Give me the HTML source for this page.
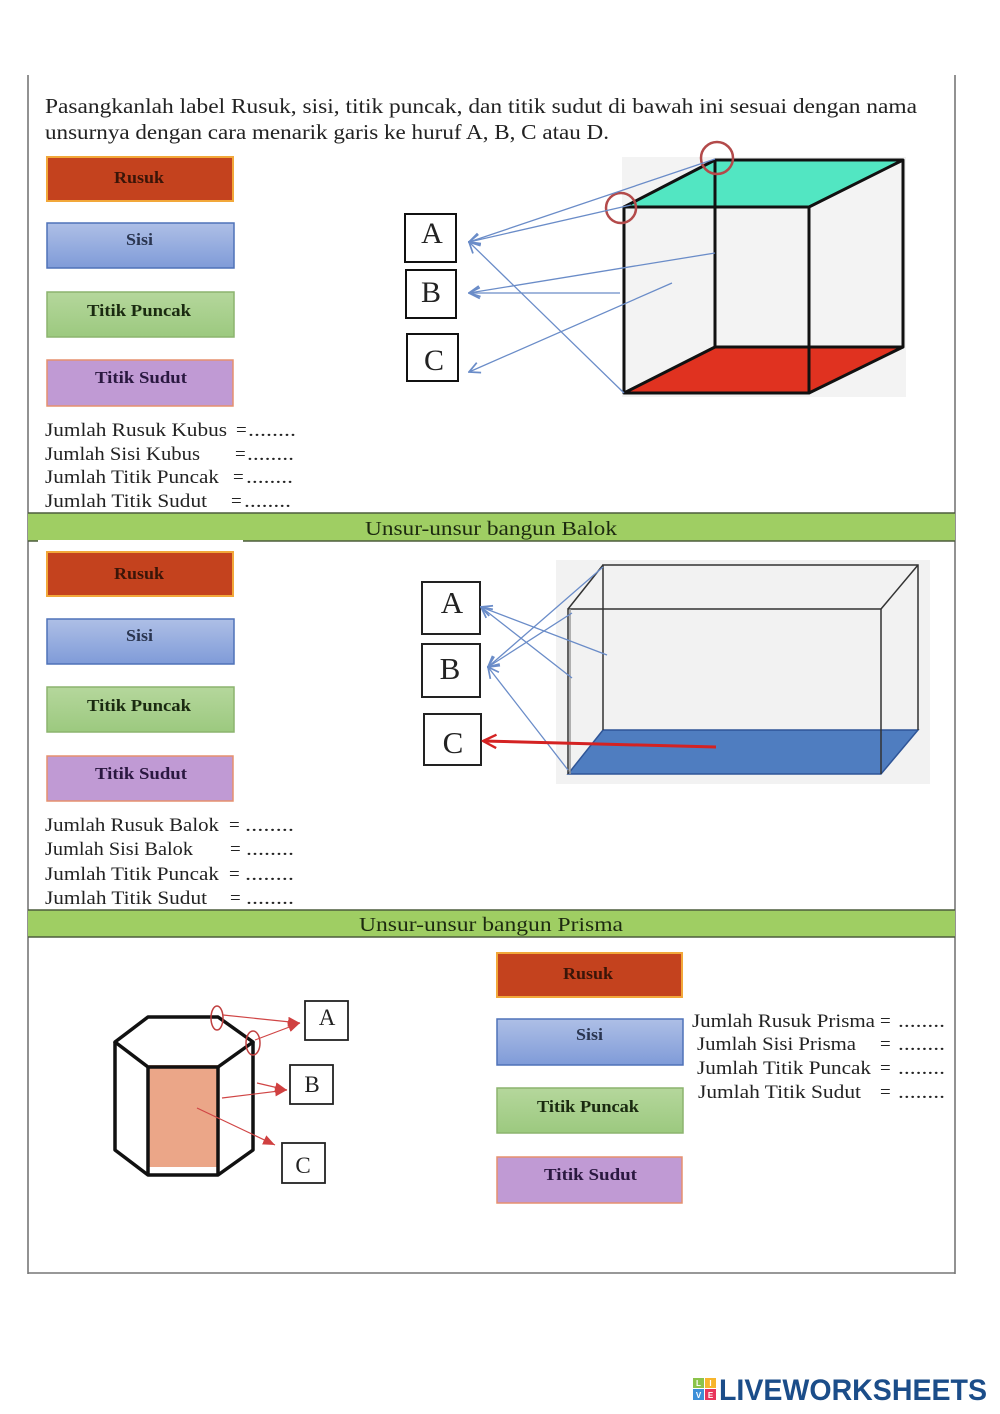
<!DOCTYPE html>
<html><head><meta charset="utf-8"><style>
html,body{margin:0;padding:0;background:#fff;}
svg{display:block;}
text{font-family:"Liberation Serif",serif;}
</style></head><body>
<svg width="1000" height="1414" viewBox="0 0 1000 1414" xmlns="http://www.w3.org/2000/svg">
<defs>
<marker id="ab" viewBox="0 0 12 12" refX="11" refY="6" markerWidth="13" markerHeight="13" markerUnits="userSpaceOnUse" orient="auto"><path d="M1,1 L11,6 L1,11" fill="none" stroke="#6a8cc8" stroke-width="1.6"/></marker>
<marker id="ar" viewBox="0 0 12 12" refX="11" refY="6" markerWidth="16" markerHeight="16" markerUnits="userSpaceOnUse" orient="auto"><path d="M1,1 L11,6 L1,11" fill="none" stroke="#d42222" stroke-width="1.8"/></marker>
<marker id="af" viewBox="0 0 12 10" refX="12" refY="5" markerWidth="12" markerHeight="10" markerUnits="userSpaceOnUse" orient="auto"><path d="M0,0 L12,5 L0,10 z" fill="#d04040"/></marker>
<linearGradient id="gs" x1="0" y1="0" x2="0" y2="1"><stop offset="0" stop-color="#aebfe6"/><stop offset="1" stop-color="#7f9bd8"/></linearGradient>
<linearGradient id="gg" x1="0" y1="0" x2="0" y2="1"><stop offset="0" stop-color="#b5d79c"/><stop offset="1" stop-color="#9cc97f"/></linearGradient>
</defs>

<!-- page border -->
<g stroke="#777" stroke-width="1.6" fill="none">
<line x1="28" y1="75" x2="28" y2="1274"/>
<line x1="955" y1="75" x2="955" y2="1274"/>
<line x1="28" y1="1273" x2="955" y2="1273"/>
</g>

<!-- instruction -->
<text x="45" y="113" font-size="21" fill="#222" textLength="872" lengthAdjust="spacingAndGlyphs">Pasangkanlah label Rusuk, sisi, titik puncak, dan titik sudut di bawah ini sesuai dengan nama</text>
<text x="45" y="139" font-size="21" fill="#222" textLength="564" lengthAdjust="spacingAndGlyphs">unsurnya dengan cara menarik garis ke huruf A, B, C atau D.</text>

<!-- ===== Section 1 labels ===== -->
<rect x="47" y="157" width="186" height="44" fill="#c4421e" stroke="#f2a83a" stroke-width="2"/>
<text x="114" y="183" font-size="17" font-weight="bold" fill="#3a1508" textLength="50" lengthAdjust="spacingAndGlyphs">Rusuk</text>
<rect x="47" y="223" width="187" height="45" fill="url(#gs)" stroke="#4f72b8" stroke-width="1.5"/>
<text x="126" y="245" font-size="17" font-weight="bold" fill="#2a3550" textLength="27" lengthAdjust="spacingAndGlyphs">Sisi</text>
<rect x="47" y="292" width="187" height="45" fill="url(#gg)" stroke="#8cb46e" stroke-width="1.5"/>
<text x="87" y="316" font-size="17" font-weight="bold" fill="#1a2a10" textLength="104" lengthAdjust="spacingAndGlyphs">Titik Puncak</text>
<rect x="47" y="360" width="186" height="46" fill="#c09ad4" stroke="#e6906e" stroke-width="1.5"/>
<text x="95" y="383" font-size="17" font-weight="bold" fill="#2a1840" textLength="92" lengthAdjust="spacingAndGlyphs">Titik Sudut</text>

<!-- jumlah kubus -->
<g font-size="19" fill="#222">
<text x="45" y="436" textLength="182" lengthAdjust="spacingAndGlyphs">Jumlah Rusuk Kubus</text><text x="236" y="436">=</text><text x="248" y="436" textLength="48" lengthAdjust="spacingAndGlyphs">........</text>
<text x="45" y="460" textLength="155" lengthAdjust="spacingAndGlyphs">Jumlah Sisi Kubus</text><text x="235" y="460">=</text><text x="247" y="460" textLength="47" lengthAdjust="spacingAndGlyphs">........</text>
<text x="45" y="483" textLength="174" lengthAdjust="spacingAndGlyphs">Jumlah Titik Puncak</text><text x="233" y="483">=</text><text x="246" y="483" textLength="47" lengthAdjust="spacingAndGlyphs">........</text>
<text x="45" y="507" textLength="162" lengthAdjust="spacingAndGlyphs">Jumlah Titik Sudut</text><text x="231" y="507">=</text><text x="244" y="507" textLength="47" lengthAdjust="spacingAndGlyphs">........</text>
</g>

<!-- cube -->
<rect x="622" y="157" width="284" height="240" fill="#f3f3f3"/>
<polygon points="624,207 715,160 903,160 809,207" fill="#52e6c2"/>
<polygon points="624,393 715,347 903,347 809,393" fill="#e03220"/>
<g stroke="#111" stroke-width="3" fill="none" stroke-linejoin="round">
<polygon points="624,207 809,207 809,393 624,393"/>
<polygon points="715,160 903,160 903,347 715,347"/>
<line x1="624" y1="207" x2="715" y2="160"/>
<line x1="809" y1="207" x2="903" y2="160"/>
<line x1="809" y1="393" x2="903" y2="347"/>
<line x1="624" y1="393" x2="715" y2="347"/>
</g>
<circle cx="717" cy="158" r="16" fill="none" stroke="#b34a4a" stroke-width="2.5"/>
<circle cx="621" cy="208" r="15" fill="none" stroke="#b34a4a" stroke-width="2.5"/>
<!-- cube boxes -->
<g fill="#fff" stroke="#111" stroke-width="2">
<rect x="405" y="214" width="51" height="48"/>
<rect x="406" y="270" width="50" height="48"/>
<rect x="407" y="334" width="51" height="47"/>
</g>
<g font-size="30" fill="#222" text-anchor="middle">
<text x="432" y="243">A</text>
<text x="431" y="302">B</text>
<text x="434" y="370">C</text>
</g>
<!-- cube arrows -->
<g stroke="#6a8cc8" stroke-width="1.3" fill="none" marker-end="url(#ab)">
<line x1="715" y1="159" x2="469" y2="242"/>
<line x1="631" y1="205" x2="469" y2="242"/>
<line x1="624" y1="393" x2="469" y2="242"/>
<line x1="715" y1="253" x2="469" y2="293"/>
<line x1="620" y1="293" x2="469" y2="293"/>
<line x1="672" y1="283" x2="469" y2="372"/>
</g>

<!-- band 1 -->
<rect x="28" y="513" width="927" height="28" fill="#9fce63"/>
<line x1="28" y1="513" x2="955" y2="513" stroke="#4d5d3d" stroke-width="1.6"/>
<line x1="28" y1="541" x2="955" y2="541" stroke="#4d5d3d" stroke-width="1.6"/>
<rect x="38" y="540" width="205" height="4" fill="#fff"/>
<text x="365" y="535" font-size="20" fill="#1d2a10" textLength="252" lengthAdjust="spacingAndGlyphs">Unsur-unsur bangun Balok</text>

<!-- ===== Section 2 labels ===== -->
<rect x="47" y="552" width="186" height="44" fill="#c4421e" stroke="#f2a83a" stroke-width="2"/>
<text x="114" y="579" font-size="17" font-weight="bold" fill="#3a1508" textLength="50" lengthAdjust="spacingAndGlyphs">Rusuk</text>
<rect x="47" y="619" width="187" height="45" fill="url(#gs)" stroke="#4f72b8" stroke-width="1.5"/>
<text x="126" y="641" font-size="17" font-weight="bold" fill="#2a3550" textLength="27" lengthAdjust="spacingAndGlyphs">Sisi</text>
<rect x="47" y="687" width="187" height="45" fill="url(#gg)" stroke="#8cb46e" stroke-width="1.5"/>
<text x="87" y="711" font-size="17" font-weight="bold" fill="#1a2a10" textLength="104" lengthAdjust="spacingAndGlyphs">Titik Puncak</text>
<rect x="47" y="756" width="186" height="45" fill="#c09ad4" stroke="#e6906e" stroke-width="1.5"/>
<text x="95" y="779" font-size="17" font-weight="bold" fill="#2a1840" textLength="92" lengthAdjust="spacingAndGlyphs">Titik Sudut</text>

<!-- jumlah balok -->
<g font-size="19" fill="#222">
<text x="45" y="831" textLength="174" lengthAdjust="spacingAndGlyphs">Jumlah Rusuk Balok</text><text x="229" y="831">=</text><text x="245" y="831" textLength="49" lengthAdjust="spacingAndGlyphs">........</text>
<text x="45" y="855" textLength="148" lengthAdjust="spacingAndGlyphs">Jumlah Sisi Balok</text><text x="230" y="855">=</text><text x="246" y="855" textLength="48" lengthAdjust="spacingAndGlyphs">........</text>
<text x="45" y="880" textLength="174" lengthAdjust="spacingAndGlyphs">Jumlah Titik Puncak</text><text x="229" y="880">=</text><text x="245" y="880" textLength="49" lengthAdjust="spacingAndGlyphs">........</text>
<text x="45" y="904" textLength="162" lengthAdjust="spacingAndGlyphs">Jumlah Titik Sudut</text><text x="230" y="904">=</text><text x="246" y="904" textLength="48" lengthAdjust="spacingAndGlyphs">........</text>
</g>

<!-- balok -->
<rect x="556" y="560" width="374" height="224" fill="#f2f2f2"/>
<polygon points="568,774 881,774 918,730 603,730" fill="#4f7dc0" stroke="#2f5597" stroke-width="1.5"/>
<g stroke="#333" stroke-width="1.5" fill="none">
<polyline points="568,774 568,609 881,609 881,774"/>
<polyline points="603,730 603,565 918,565 918,730"/>
<line x1="568" y1="609" x2="603" y2="565"/>
<line x1="881" y1="609" x2="918" y2="565"/>
<line x1="570" y1="609" x2="570" y2="774" stroke="#999"/>
</g>
<!-- balok boxes -->
<g fill="#fff" stroke="#222" stroke-width="2">
<rect x="422" y="582" width="58" height="52"/>
<rect x="422" y="644" width="58" height="53"/>
<rect x="424" y="714" width="57" height="51"/>
</g>
<g font-size="31" fill="#222" text-anchor="middle">
<text x="452" y="613">A</text>
<text x="450" y="679">B</text>
<text x="453" y="753">C</text>
</g>
<g stroke="#6a8cc8" stroke-width="1.3" fill="none" marker-end="url(#ab)">
<line x1="607" y1="655" x2="481" y2="607"/>
<line x1="572" y1="678" x2="481" y2="607"/>
<line x1="603" y1="567" x2="488" y2="667"/>
<line x1="572" y1="613" x2="488" y2="667"/>
<line x1="568" y1="770" x2="488" y2="667"/>
</g>
<line x1="716" y1="747" x2="483" y2="741" stroke="#d42222" stroke-width="3" marker-end="url(#ar)"/>

<!-- band 2 -->
<rect x="28" y="910" width="927" height="27" fill="#9fce63"/>
<line x1="28" y1="910" x2="955" y2="910" stroke="#4d5d3d" stroke-width="1.6"/>
<line x1="28" y1="937" x2="955" y2="937" stroke="#4d5d3d" stroke-width="1.6"/>
<text x="359" y="931" font-size="20" fill="#1d2a10" textLength="264" lengthAdjust="spacingAndGlyphs">Unsur-unsur bangun Prisma</text>

<!-- ===== Section 3 ===== -->
<!-- prism -->
<rect x="149" y="1065" width="69" height="102" fill="#eba688"/>
<g stroke="#111" stroke-width="3.5" fill="none" stroke-linejoin="round">
<polygon points="115,1042 148,1017 218,1017 253,1042 218,1067 148,1067"/>
<polyline points="115,1042 115,1150 148,1175 218,1175 253,1150 253,1042"/>
<line x1="148" y1="1067" x2="148" y2="1175"/>
<line x1="218" y1="1067" x2="218" y2="1175"/>
</g>
<ellipse cx="217" cy="1018" rx="6" ry="12" fill="none" stroke="#c04040" stroke-width="1.5"/>
<ellipse cx="253" cy="1043" rx="7" ry="12" fill="none" stroke="#c04040" stroke-width="1.5"/>
<g fill="#fff" stroke="#222" stroke-width="1.8">
<rect x="305" y="1001" width="43" height="39"/>
<rect x="290" y="1065" width="43" height="39"/>
<rect x="282" y="1143" width="43" height="40"/>
</g>
<g font-size="23" fill="#222" text-anchor="middle">
<text x="327" y="1025">A</text>
<text x="312" y="1092">B</text>
<text x="303" y="1173">C</text>
</g>
<g stroke="#d04545" stroke-width="1.2" fill="none" marker-end="url(#af)">
<line x1="223" y1="1015" x2="300" y2="1023"/>
<line x1="255" y1="1040" x2="300" y2="1023"/>
<line x1="257" y1="1083" x2="287" y2="1090"/>
<line x1="222" y1="1098" x2="287" y2="1090"/>
<line x1="197" y1="1108" x2="275" y2="1145"/>
</g>

<!-- prism labels -->
<rect x="497" y="953" width="185" height="44" fill="#c4421e" stroke="#f2a83a" stroke-width="2"/>
<text x="563" y="979" font-size="17" font-weight="bold" fill="#3a1508" textLength="50" lengthAdjust="spacingAndGlyphs">Rusuk</text>
<rect x="497" y="1019" width="186" height="46" fill="url(#gs)" stroke="#4f72b8" stroke-width="1.5"/>
<text x="576" y="1040" font-size="17" font-weight="bold" fill="#2a3550" textLength="27" lengthAdjust="spacingAndGlyphs">Sisi</text>
<rect x="497" y="1088" width="186" height="45" fill="url(#gg)" stroke="#8cb46e" stroke-width="1.5"/>
<text x="537" y="1112" font-size="17" font-weight="bold" fill="#1a2a10" textLength="102" lengthAdjust="spacingAndGlyphs">Titik Puncak</text>
<rect x="497" y="1157" width="185" height="46" fill="#c09ad4" stroke="#e6906e" stroke-width="1.5"/>
<text x="544" y="1180" font-size="17" font-weight="bold" fill="#2a1840" textLength="93" lengthAdjust="spacingAndGlyphs">Titik Sudut</text>

<g font-size="19" fill="#222">
<text x="692" y="1027" textLength="183" lengthAdjust="spacingAndGlyphs">Jumlah Rusuk Prisma</text><text x="880" y="1027">=</text><text x="898" y="1027" textLength="47" lengthAdjust="spacingAndGlyphs">........</text>
<text x="697" y="1050" textLength="159" lengthAdjust="spacingAndGlyphs">Jumlah Sisi Prisma</text><text x="880" y="1050">=</text><text x="898" y="1050" textLength="47" lengthAdjust="spacingAndGlyphs">........</text>
<text x="697" y="1074" textLength="174" lengthAdjust="spacingAndGlyphs">Jumlah Titik Puncak</text><text x="880" y="1074">=</text><text x="898" y="1074" textLength="47" lengthAdjust="spacingAndGlyphs">........</text>
<text x="698" y="1098" textLength="163" lengthAdjust="spacingAndGlyphs">Jumlah Titik Sudut</text><text x="880" y="1098">=</text><text x="898" y="1098" textLength="47" lengthAdjust="spacingAndGlyphs">........</text>
</g>

<!-- logo -->
<rect x="693" y="1378" width="11" height="10" fill="#8bc34a"/>
<rect x="705" y="1378" width="11" height="10" fill="#f7b52c"/>
<rect x="693" y="1389" width="11" height="11" fill="#3d8fd8"/>
<rect x="705" y="1389" width="11" height="11" fill="#e8355c"/>
<g font-family="Liberation Sans, sans-serif" font-size="8" font-weight="bold" fill="#fff" text-anchor="middle">
<text x="698.5" y="1386" style="font-family:'Liberation Sans',sans-serif">L</text>
<text x="710.5" y="1386" style="font-family:'Liberation Sans',sans-serif">I</text>
<text x="698.5" y="1398" style="font-family:'Liberation Sans',sans-serif">V</text>
<text x="710.5" y="1398" style="font-family:'Liberation Sans',sans-serif">E</text>
</g>
<text x="719" y="1400" font-size="30" font-weight="bold" fill="#1b4d89" textLength="268" lengthAdjust="spacingAndGlyphs" style="font-family:'Liberation Sans',sans-serif">LIVEWORKSHEETS</text>
</svg>
</body></html>
